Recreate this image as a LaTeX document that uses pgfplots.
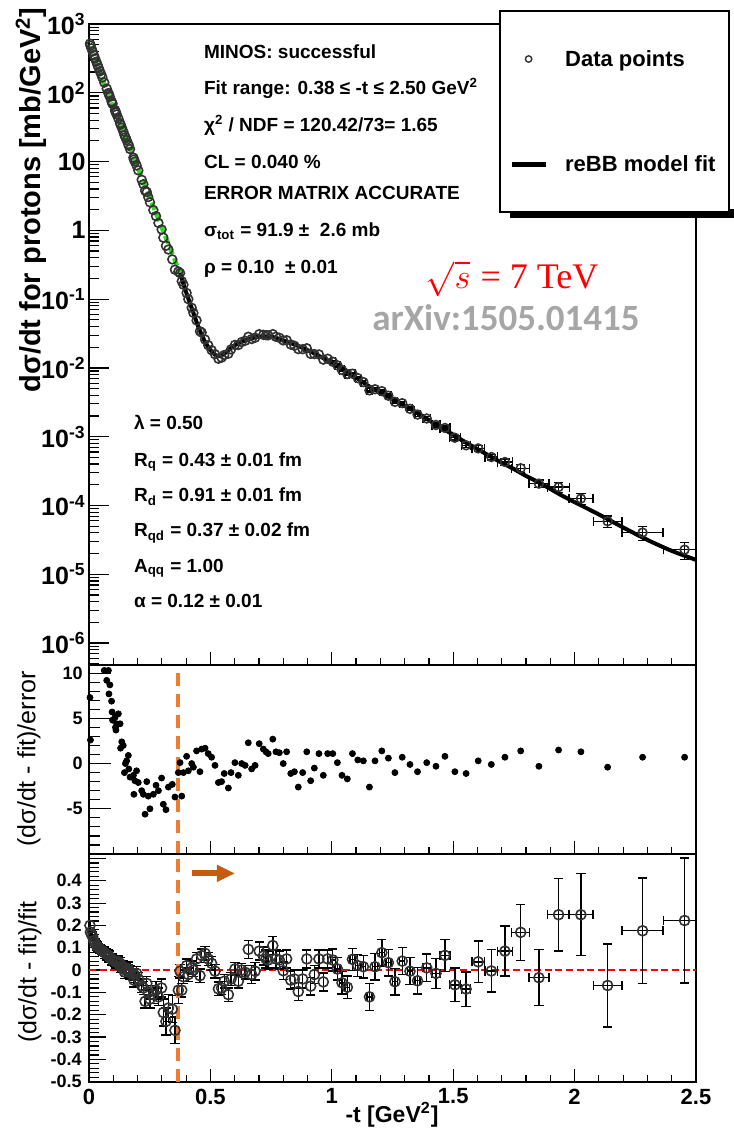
\documentclass[border=0pt]{standalone}
\usepackage{fontspec}
\setmainfont{Liberation Sans}
\newfontfamily\carlito{Carlito}
\newfontfamily\serif{Liberation Serif}
\usepackage{pgfplots}
\pgfplotsset{compat=1.18}
\usepackage{pgfplotstable}
\usetikzlibrary{arrows.meta}

\definecolor{orangeline}{RGB}{237,125,49}
\definecolor{orangearrow}{RGB}{197,90,17}
\definecolor{greenfit}{RGB}{50,220,30}
\definecolor{txtgray}{RGB}{166,166,166}
\definecolor{circ}{RGB}{50,50,50}

\newcommand\fTop{\fontsize{12.5}{14}\selectfont\bfseries}
\newcommand\fS{\fontsize{9}{10}\selectfont\bfseries}
\newcommand\fX{\fontsize{11}{13}\selectfont\bfseries}
\newcommand\fAnn{\fontsize{9.5}{11}\selectfont\bfseries}
\newcommand\fLeg{\fontsize{11}{13}\selectfont\bfseries}

\pgfplotstableread{
t ds pull r rerr terr
0.004 518 7.3 0.20 0.02 0
0.006 484 2.6 0.17 0.02 0
0.010 443 14 0.16 0.02 0
0.015 397 15 0.15 0.02 0
0.020 353 16 0.13 0.02 0
0.025 316 14 0.12 0.02 0
0.030 283 13 0.11 0.02 0
0.035 255 13 0.105 0.02 0
0.040 229 12 0.10 0.02 0
0.045 206 12 0.095 0.02 0
0.050 186 11.5 0.09 0.02 0
0.055 167 11.2 0.085 0.02 0
0.063 141 10.3 0.078 0.025 0
0.073 115 9.2 0.07 0.025 0
0.080 99.1 10.3 0.066 0.025 0
0.082 94.6 7.7 0.06 0.025 0
0.086 87.3 8.7 0.058 0.025 0
0.093 75.0 6.9 0.05 0.025 0
0.095 71.9 5.7 0.048 0.025 0
0.097 68.9 4.8 0.045 0.025 0
0.107 56.1 5.1 0.04 0.025 0
0.109 53.7 4.0 0.037 0.025 0
0.111 51.5 3.7 0.035 0.025 0
0.114 48.4 4.4 0.036 0.025 0
0.121 42.2 5.5 0.038 0.025 0
0.128 36.3 4.4 0.03 0.025 0
0.130 34.4 1.7 0.014 0.025 0
0.135 31.2 2.4 0.018 0.025 0
0.141 27.5 2.0 0.015 0.025 0
0.146 24.3 -1.0 -0.008 0.03 0
0.150 22.6 0.0 0.0 0.03 0
0.155 20.5 0.3 0.002 0.03 0
0.162 17.9 0.9 0.006 0.03 0
0.164 17.0 -0.6 -0.005 0.03 0
0.169 15.2 -1.5 -0.012 0.03 0
0.183 11.4 -1.3 -0.015 0.03 0
0.185 10.7 -3.4 -0.045 0.03 0
0.189 10.0 -1.9 -0.025 0.03 0
0.196 8.79 -0.8 -0.015 0.03 0
0.203 7.45 -2.1 -0.04 0.03 0
0.217 5.43 -3.0 -0.07 0.03 0
0.224 4.68 -3.4 -0.08 0.03 0
0.231 3.78 -5.6 -0.14 0.03 0
0.238 3.60 -2.0 -0.06 0.03 0
0.244 3.05 -3.6 -0.10 0.03 0
0.251 2.56 -5.0 -0.13 0.04 0
0.265 1.97 -3.4 -0.11 0.04 0
0.276 1.61 -2.4 -0.09 0.04 0
0.286 1.28 -3.0 -0.12 0.04 0
0.299 1.03 -1.6 -0.08 0.04 0
0.306 0.783 -4.5 -0.19 0.06 0
0.317 0.597 -5.1 -0.23 0.06 0
0.327 0.526 -2.6 -0.17 0.06 0
0.343 0.378 -2.3 -0.175 0.06 0
0.354 0.268 -3.7 -0.27 0.06 0
0.368 0.252 -1.0 -0.09 0.06 0
0.375 0.239 0.1 -0.005 0.03 0
0.382 0.182 -3.6 -0.09 0.03 0
0.389 0.162 -1.0 -0.03 0.03 0
0.402 0.123 0.8 0.02 0.03 0
0.409 0.100 -0.8 -0.02 0.03 0
0.423 0.0748 0.0 0.01 0.03 0
0.430 0.0631 -0.4 0.0 0.03 0
0.443 0.0491 1.4 0.05 0.03 0
0.457 0.0341 -0.9 -0.025 0.03 0
0.464 0.0327 1.6 0.065 0.03 0
0.478 0.0259 1.7 0.075 0.03 0
0.491 0.0214 1.1 0.05 0.03 0
0.505 0.0181 0.7 0.03 0.03 0
0.519 0.0158 -0.2 -0.005 0.03 0
0.533 0.0136 -2.1 -0.084 0.03 0
0.546 0.0141 -2.0 -0.08 0.03 0
0.557 0.0154 -1.1 -0.05 0.03 0
0.574 0.0161 -2.7 -0.11 0.03 0
0.585 0.0186 -1.0 -0.04 0.03 0
0.601 0.0216 0.1 0.005 0.03 0
0.615 0.0215 -1.3 -0.05 0.03 0
0.629 0.0238 0.0 0.0 0.03 0
0.643 0.0248 -0.2 -0.01 0.03 0
0.656 0.0284 2.3 0.093 0.04 0
0.670 0.0263 -0.6 -0.02 0.04 0
0.684 0.0275 -0.2 -0.005 0.04 0
0.701 0.0309 2.2 0.085 0.04 0
0.718 0.0303 1.6 0.063 0.04 0
0.729 0.0299 1.3 0.05 0.04 0
0.738 0.0298 1.1 0.045 0.04 0
0.757 0.0310 2.7 0.11 0.04 0
0.770 0.0284 1.3 0.05 0.04 0
0.784 0.0274 1.2 0.045 0.04 0
0.800 0.0251 0.0 -0.003 0.04 0
0.814 0.0253 1.3 0.05 0.04 0
0.831 0.0219 -1.1 -0.045 0.04 0
0.846 0.0210 -0.9 -0.04 0.04 0
0.862 0.0188 -2.6 -0.096 0.04 0
0.880 0.0187 -1.0 -0.04 0.04 0
0.897 0.0193 1.3 0.05 0.04 0
0.913 0.0160 -1.9 -0.072 0.04 0
0.928 0.0159 -0.5 -0.02 0.04 0
0.947 0.0157 1.1 0.05 0.04 0
0.965 0.0132 -1.3 -0.053 0.04 0
0.983 0.0136 1.1 0.05 0.04 0
1.004 0.0123 1.1 0.045 0.05 0.01
1.023 0.0109 0.1 0.005 0.05 0.01
1.042 0.00933 -1.3 -0.057 0.05 0.01
1.064 0.00815 -1.7 -0.077 0.05 0.01
1.085 0.00824 1.1 0.048 0.05 0.01
1.107 0.00711 0.4 0.02 0.05 0.01
1.130 0.00622 0.3 0.015 0.05 0.01
1.155 0.00472 -2.6 -0.12 0.06 0.01
1.178 0.00490 0.3 0.015 0.06 0.01
1.206 0.00459 1.4 0.078 0.06 0.01
1.233 0.00394 0.6 0.033 0.06 0.01
1.260 0.00321 -1.0 -0.052 0.06 0.01
1.290 0.00307 0.7 0.04 0.06 0.01
1.322 0.00254 -0.1 -0.005 0.06 0.01
1.353 0.00210 -0.9 -0.048 0.06 0.01
1.391 0.00184 0.1 0.01 0.062 0.015
1.429 0.00148 -0.3 -0.015 0.068 0.016
1.466 0.00134 0.8 0.066 0.072 0.02
1.507 0.000966 -0.9 -0.066 0.076 0.022
1.553 0.000750 -1.1 -0.085 0.077 0.019
1.603 0.000676 0.3 0.037 0.093 0.026
1.657 0.000506 -0.1 -0.004 0.095 0.026
1.713 0.000429 0.7 0.085 0.112 0.03
1.778 0.000348 1.4 0.169 0.125 0.037
1.853 0.000208 -0.3 -0.034 0.125 0.041
1.934 0.000185 1.5 0.248 0.163 0.045
2.026 0.000126 1.3 0.248 0.184 0.049
2.136 0.0000590 -0.4 -0.069 0.186 0.059
2.280 0.0000404 0.7 0.176 0.236 0.084
2.453 0.0000228 0.7 0.222 0.28 0.088
}\data

\pgfplotstableread{
t f
0.375 0.240
0.40 0.126
0.425 0.0708
0.45 0.0398
0.475 0.0251
0.50 0.0182
0.525 0.0151
0.55 0.0155
0.575 0.0182
0.60 0.0214
0.65 0.0257
0.70 0.0285
0.75 0.0285
0.80 0.0251
0.85 0.0216
0.90 0.0182
0.95 0.0148
1.00 0.0120
1.05 0.00955
1.10 0.00724
1.15 0.00550
1.20 0.00437
1.25 0.00355
1.30 0.00282
1.35 0.00224
1.40 0.00174
1.45 0.00135
1.50 0.00107
1.55 0.000832
1.60 0.000661
1.65 0.000525
1.70 0.000417
1.75 0.000339
1.80 0.000269
1.85 0.000219
1.90 0.000174
1.95 0.000138
2.00 0.000112
2.10 0.0000741
2.20 0.0000479
2.30 0.0000316
2.40 0.0000219
2.50 0.0000162
}\fit

\pgfplotsset{
  rootaxis/.style={
    scale only axis, width=303.5pt, xmin=0, xmax=2.5,
    anchor=south west,
    axis line style={line width=0.9pt, black},
    tick align=inside, xtick pos=bottom, ytick pos=left,
    xtick={0,0.5,1,1.5,2,2.5}, minor x tick num=4,
    xticklabels={,,,,,},
    tick style={line width=0.6pt, black},
    xtick style={/pgfplots/major tick length=6.5pt,/pgfplots/minor tick length=3.5pt},
  },
  circmarks/.style={only marks, mark=o, mark size=#1,
    mark options={draw=circ, fill=white, line width=0.8pt}},
  ebars/.style={error bars/error bar style={black, line width=0.7pt},
    error bars/error mark options={rotate=90, black, line width=0.7pt, mark size=2.3pt}},
}

\begin{document}
\begin{tikzpicture}

% legend shadow (drawn first, below everything)
\fill[black] (255pt,457.4pt) rectangle (400pt,462pt);

% ---------------- top panel ----------------
\begin{axis}[rootaxis, at={(44.5pt,234pt)}, height=320.5pt,
  ymode=log, ymin=4.8e-7, ymax=1000,
  ytick={1e-6,1e-5,1e-4,1e-3,1e-2,1e-1,1,10,100,1000},
  yticklabels={10\textsuperscript{-6},10\textsuperscript{-5},10\textsuperscript{-4},10\textsuperscript{-3},10\textsuperscript{-2},10\textsuperscript{-1},1,10,10\textsuperscript{2},10\textsuperscript{3}},
  minor ytick={5e-7,6e-7,7e-7,8e-7,9e-7,
    2e-6,3e-6,4e-6,5e-6,6e-6,7e-6,8e-6,9e-6,
    2e-5,3e-5,4e-5,5e-5,6e-5,7e-5,8e-5,9e-5,
    2e-4,3e-4,4e-4,5e-4,6e-4,7e-4,8e-4,9e-4,
    2e-3,3e-3,4e-3,5e-3,6e-3,7e-3,8e-3,9e-3,
    0.02,0.03,0.04,0.05,0.06,0.07,0.08,0.09,
    0.2,0.3,0.4,0.5,0.6,0.7,0.8,0.9,
    2,3,4,5,6,7,8,9,20,30,40,50,60,70,80,90,
    200,300,400,500,600,700,800,900},
  ytick style={/pgfplots/major tick length=10pt,/pgfplots/minor tick length=5pt},
  yticklabel style={font=\fTop, inner xsep=0pt, xshift=-1.5pt},
  legend cell align=left,
  legend style={at={(axis description cs:0.6755,1.0218)}, anchor=north west,
    draw=black, fill=white, line width=1pt, inner xsep=4.5pt, inner ysep=16.7pt,
    row sep=38pt, column sep=6.5pt, font=\fLeg, cells={anchor=west}},
]
\addplot[forget plot, circmarks=2.2pt, restrict x to domain=0:0.999] table[x=t, y=ds]{\data};
\addplot[forget plot, circmarks=2.2pt, restrict x to domain=1:2.6, ebars,
  error bars/x dir=both, error bars/x explicit,
  error bars/y dir=both, error bars/y explicit relative]
  table[x=t, y=ds, x error=terr, y error=rerr]{\data};
\addplot[forget plot, greenfit, line width=2.2pt, dash pattern=on 4pt off 2pt]
  coordinates {(0,468) (0.375,0.24)};
\addplot[forget plot, black, line width=2pt, smooth] table[x=t, y=f]{\fit};
\addlegendimage{only marks, mark=o, mark size=1.6pt, circ, mark options={line width=0.7pt}}
\addlegendentry{\strut Data points\hspace{90pt}}
\addlegendimage{no markers, black, line width=2.5pt}
\addlegendentry{\strut reBB model fit}
\end{axis}

% ---------------- middle panel ----------------
\begin{axis}[rootaxis, at={(44.5pt,139.5pt)}, height=94.5pt,
  ymin=-10, ymax=10.9,
  ytick={-10,-5,0,5,10}, yticklabels={,-5,0,5,10}, minor y tick num=4,
  ytick style={/pgfplots/major tick length=11pt,/pgfplots/minor tick length=5.5pt},
  yticklabel style={font=\fS, inner xsep=0pt, xshift=-3pt},
]
\addplot[only marks, mark=*, mark size=1.5pt, black] table[x=t, y=pull]{\data};
\addplot[orangeline, line width=2pt, dash pattern=on 6.5pt off 4pt]
  coordinates {(0.367,-10) (0.367,10.9)};
\end{axis}

% ---------------- bottom panel ----------------
\begin{axis}[rootaxis, at={(44.5pt,25.65pt)}, height=113.85pt,
  ymin=-0.5, ymax=0.52,
  ytick={-0.5,-0.4,-0.3,-0.2,-0.1,0,0.1,0.2,0.3,0.4,0.5},
  yticklabels={-0.5,-0.4,-0.3,-0.2,-0.1,0,0.1,0.2,0.3,0.4,{}},
  minor y tick num=4,
  ytick style={/pgfplots/major tick length=8.5pt,/pgfplots/minor tick length=5pt},
  yticklabel style={font=\fS, inner xsep=0pt, xshift=-3.5pt},
  xticklabels={0,0.5,1,1.5,2,2.5},
  xticklabel style={font=\fX},
]
\addplot[red, line width=1.3pt, dash pattern=on 3.5pt off 1.8pt]
  coordinates {(0,0) (2.5,0)};
\addplot[circmarks=2.5pt, restrict x to domain=0:0.999, ebars,
  error bars/y dir=both, error bars/y explicit]
  table[x=t, y=r, y error=rerr]{\data};
\addplot[circmarks=2.5pt, restrict x to domain=1:2.6, ebars,
  error bars/x dir=both, error bars/x explicit,
  error bars/y dir=both, error bars/y explicit]
  table[x=t, y=r, x error=terr, y error=rerr]{\data};
\addplot[orangeline, line width=2pt, dash pattern=on 6.5pt off 4pt]
  coordinates {(0.367,-0.5) (0.367,0.52)};
\addplot[orangearrow, line width=3pt, -{Triangle[length=9pt,width=8pt]}]
  coordinates {(0.423,0.433) (0.601,0.433)};
\end{axis}

% ---------------- texts ----------------
\node[anchor=base west, font=\fAnn] at (98.5pt,537.3pt) {MINOS: successful};
\node[anchor=base west, font=\fAnn] at (98.5pt,519pt) {Fit range: 0.38 ≤ -t ≤ 2.50 GeV\textsuperscript{2}};
\node[anchor=base west, font=\fAnn] at (98.5pt,500.65pt) {χ\textsuperscript{2} / NDF = 120.42/73= 1.65};
\node[anchor=base west, font=\fAnn] at (98.5pt,482.3pt) {CL = 0.040 \%};
\node[anchor=base west, font=\fAnn] at (98.5pt,466.5pt) {ERROR MATRIX ACCURATE};
\node[anchor=base west, font=\fAnn] at (98.5pt,448.15pt) {σ\textsubscript{tot} = 91.9 ±\ \ 2.6 mb};
\node[anchor=base west, font=\fAnn] at (98.5pt,429.8pt) {ρ = 0.10 \ ± 0.01};

\node[anchor=base west, font=\fAnn] at (63.5pt,351.5pt) {λ = 0.50};
\node[anchor=base west, font=\fAnn] at (63.5pt,333.15pt) {R\textsubscript{q} = 0.43 ± 0.01 fm};
\node[anchor=base west, font=\fAnn] at (63.5pt,315.65pt) {R\textsubscript{d} = 0.91 ± 0.01 fm};
\node[anchor=base west, font=\fAnn] at (63.5pt,298.15pt) {R\textsubscript{qd} = 0.37 ± 0.02 fm};
\node[anchor=base west, font=\fAnn] at (63.5pt,280.15pt) {A\textsubscript{qq} = 1.00};
\node[anchor=base west, font=\fAnn] at (63.5pt,262.85pt) {α = 0.12 ± 0.01};

\node[red, font=\fontsize{18}{20}\selectfont] at (256pt,427pt) {$\sqrt{s}$ {\serif = 7 TeV}};
\node[txtgray, font=\carlito\bfseries\fontsize{18.5}{20}\selectfont] at (253pt,407.5pt) {arXiv:1505.01415};

\node[rotate=90, font=\fontsize{14.5}{16}\selectfont\bfseries] at (15.5pt,466.5pt) {dσ/dt for protons [mb/GeV\textsuperscript{2}]};
\node[rotate=90, font=\fontsize{12.5}{14}\selectfont] at (14.5pt,187pt) {(dσ/dt - fit)/error};
\node[rotate=90, font=\fontsize{12.5}{14}\selectfont] at (15pt,80.5pt) {(dσ/dt - fit)/fit};
\node[font=\fontsize{11.5}{13}\selectfont\bfseries] at (196pt,9pt) {-t [GeV\textsuperscript{2}]};

\pgfresetboundingbox
\path[use as bounding box] (0pt,0pt) rectangle (366.5pt,566.5pt);
\end{tikzpicture}
\end{document}
